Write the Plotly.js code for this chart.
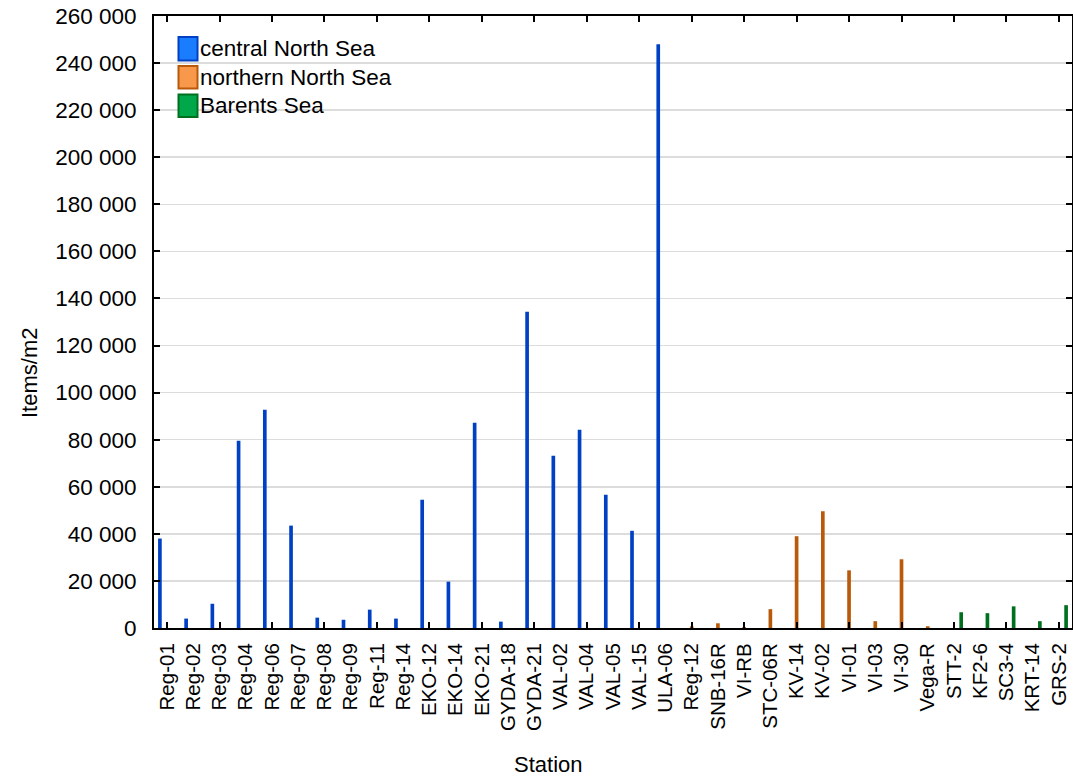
<!DOCTYPE html>
<html>
<head>
<meta charset="utf-8">
<script src="https://cdn.plot.ly/plotly-3.0.1.min.js"></script>
<style>html,body{margin:0;padding:0;background:#fff;}#chart{width:1073px;height:778px;}</style>
</head>
<body>
<div id="chart"></div>
<script>
const centralStations = ["Reg-01","Reg-02","Reg-03","Reg-04","Reg-06","Reg-07","Reg-08","Reg-09","Reg-11","Reg-14","EKO-12","EKO-14","EKO-21","GYDA-18","GYDA-21","VAL-02","VAL-04","VAL-05","VAL-15","ULA-06"];
const centralValues = [38000,4000,10300,79500,92700,43500,4400,3500,7800,4000,54500,19700,87200,2700,134400,73200,84200,56600,41300,248000];
const northernStations = ["Reg-12","SNB-16R","VI-RB","STC-06R","KV-14","KV-02","VI-01","VI-03","VI-30","Vega-R"];
const northernValues = [700,2000,400,8000,39000,49600,24500,2900,29200,750];
const barentsStations = ["STT-2","KF2-6","SC3-4","KRT-14","GRS-2"];
const barentsValues = [6700,6300,9200,2900,9700];
const seriesNames = ["central North Sea","northern North Sea","Barents Sea"];
const yTicks = [0,20000,40000,60000,80000,100000,120000,140000,160000,180000,200000,220000,240000,260000];

const allStations = centralStations.concat(northernStations, barentsStations);
const barColors = ["#0040c4","#b85a0a","#00701e"];
const swatchFill = ["#1a7cff","#f8984a","#00a84a"];

const font = "Liberation Sans, Arial, sans-serif";

const slot = 0.275, barW = 0.14;
const traces = [
  {type:"bar", name:seriesNames[0], x:centralStations, y:centralValues, marker:{color:barColors[0], line:{width:0}},
   width:barW, offset:-slot-barW/2, showlegend:false},
  {type:"bar", name:seriesNames[1], x:northernStations, y:northernValues, marker:{color:barColors[1], line:{width:0}},
   width:barW, offset:-barW/2, showlegend:false},
  {type:"bar", name:seriesNames[2], x:barentsStations, y:barentsValues, marker:{color:barColors[2], line:{width:0}},
   width:barW, offset:slot-barW/2, showlegend:false},
  {type:"scatter", x:[], y:[], xaxis:"x2", yaxis:"y", mode:"markers", showlegend:false, hoverinfo:"skip"}
];

const L = 154, R = 1072, T = 16, B = 628;
const px = v => (v - L) / (R - L);
const py = v => (B - v) / (B - T);
const swY = [[37,60.5],[66,88.5],[94.5,117]];
const shapes = [];
const annotations = [];
for (let i = 0; i < 3; i++) {
  shapes.push({type:"rect", xref:"paper", yref:"paper", x0:px(178.5), x1:px(197.5), y0:py(swY[i][1]), y1:py(swY[i][0]),
    fillcolor:swatchFill[i], line:{color:barColors[i], width:2}, layer:"above"});
  annotations.push({xref:"paper", yref:"paper", x:px(198), y:py((swY[i][0]+swY[i][1])/2), xanchor:"left", yanchor:"middle",
    text:seriesNames[i], showarrow:false, font:{family:font, size:22.5, color:"#000"}});
}
annotations.push({xref:"paper", yref:"paper", x:px(548), y:py(779), xanchor:"center", yanchor:"bottom",
  text:"Station", showarrow:false, font:{family:font, size:22, color:"#000"}});
annotations.push({xref:"paper", yref:"paper", x:px(30), y:py(373), xanchor:"center", yanchor:"middle", textangle:-90,
  text:"Items/m2", showarrow:false, font:{family:font, size:22, color:"#000"}});

const evenIdx = allStations.map((s,i)=>i).filter(i=>i%2===0);

const layout = {
  width:1073, height:778,
  margin:{l:154, r:1, t:16, b:150, pad:0},
  paper_bgcolor:"#fff", plot_bgcolor:"#fff",
  barmode:"overlay",
  separators:". ",
  font:{family:font, size:20, color:"#000"},
  xaxis:{type:"category", categoryorder:"array", categoryarray:allStations, range:[-0.5, allStations.length-0.5],
    showline:true, linecolor:"#000", linewidth:2, mirror:true, ticks:"", showgrid:false,
    tickangle:-90, tickfont:{family:font, size:20.5, color:"#000"}, ticklabelstandoff:5, automargin:false, zeroline:false},
  xaxis2:{overlaying:"x", anchor:"y", side:"bottom", type:"linear", range:[-0.5, allStations.length-0.5],
    tickmode:"array", tickvals:evenIdx, showticklabels:false, ticks:"inside", ticklen:6, tickwidth:2, tickcolor:"#000",
    mirror:"ticks", showline:true, linecolor:"#000", linewidth:2, showgrid:false, zeroline:false, fixedrange:true},
  yaxis:{range:[0,260000], tickmode:"array", tickvals:yTicks, tickformat:",d",
    showline:true, linecolor:"#000", linewidth:2, mirror:"ticks", ticks:"inside", ticklen:6, tickwidth:2, tickcolor:"#000",
    showgrid:true, gridcolor:"#dcdcdc", gridwidth:1.5, zeroline:false,
    tickfont:{family:font, size:22.5, color:"#000"}, ticklabelstandoff:11, automargin:false},
  shapes:shapes,
  annotations:annotations
};

Plotly.newPlot("chart", traces, layout, {displayModeBar:false, staticPlot:true});
</script>
</body>
</html>
